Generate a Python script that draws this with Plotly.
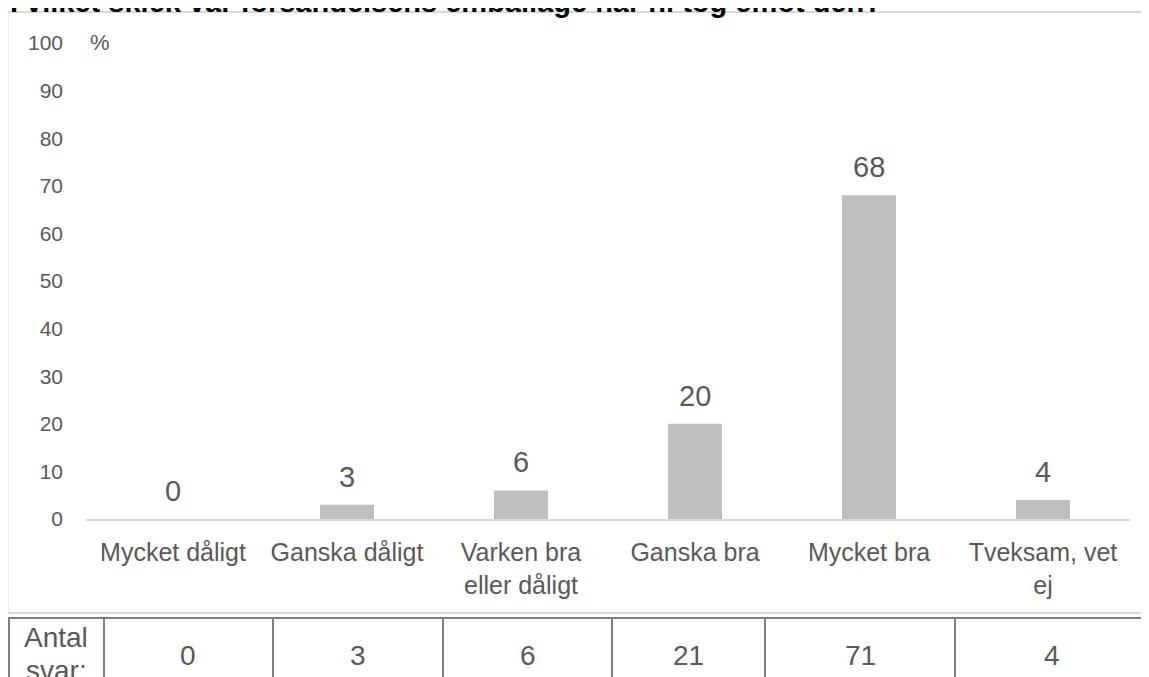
import plotly.graph_objects as go

# ---- data ----
categories = ["Mycket dåligt", "Ganska dåligt", "Varken bra<br>eller dåligt",
              "Ganska bra", "Mycket bra", "Tveksam, vet<br>ej"]
percent = [0, 3, 6, 20, 68, 4]
antal_svar = [0, 3, 6, 21, 71, 4]
y_ticks = [0, 10, 20, 30, 40, 50, 60, 70, 80, 90, 100]
title_text = "I vilket skick var försändelsens emballage när ni tog emot den?"
table_label = ["Antal", "svar:"]

# The page places the figure 8px from the top-left corner (default body margin),
# so the figure is sized to fill the rest of the 1149x677 window and layout
# positions below are given in window pixels and converted.
OFF = 8
W, H = 1149 - OFF, 677 - OFF
FONT = "Arial, Liberation Sans, sans-serif"
GRAY_TXT = "#595959"
BAR = "#bfbfbf"
LIGHT = "#d9d9d9"
TABLE_LINE = "#7f7f7f"


def px(x):
    return (x - OFF) / W


def py(y):
    return 1 - (y - OFF) / H


fig = go.Figure()
fig.add_trace(go.Bar(
    x=categories, y=percent, marker_color=BAR, marker_line_width=0,
    hoverinfo="skip", showlegend=False,
))

annotations = []
# data labels above bars
for c, v in zip(categories, percent):
    annotations.append(dict(
        x=c, y=v, xref="x", yref="y", text=str(v), showarrow=False,
        yanchor="bottom", yshift=10,
        font=dict(family=FONT, size=29, color=GRAY_TXT)))

# "%" unit label
annotations.append(dict(
    x=px(100), y=py(42), xref="paper", yref="paper", text="%",
    showarrow=False, xanchor="center", yanchor="middle",
    font=dict(family=FONT, size=22, color=GRAY_TXT)))

# title (partially cut off at the top, as in the reference)
annotations.append(dict(
    x=px(8), y=py(2), xref="paper", yref="paper", text="<b>" + title_text + "</b>",
    showarrow=False, xanchor="left", yanchor="middle",
    font=dict(family=FONT, size=29, color="#000000")))

# table
col_edges = [104, 273, 443, 612, 765, 955, 1149]
table_top, table_bottom, table_left = 618, 720, 8
shapes = []
# chart border box
shapes.append(dict(type="rect", xref="paper", yref="paper",
                   x0=px(7.5), x1=px(1165), y0=py(613), y1=py(12),
                   line=dict(color=LIGHT, width=2), fillcolor="rgba(0,0,0,0)",
                   layer="below"))
# table outer lines
shapes.append(dict(type="line", xref="paper", yref="paper",
                   x0=px(table_left), x1=px(1160), y0=py(table_top), y1=py(table_top),
                   line=dict(color=TABLE_LINE, width=2)))
shapes.append(dict(type="line", xref="paper", yref="paper",
                   x0=px(table_left + 1), x1=px(table_left + 1),
                   y0=py(table_top), y1=py(table_bottom),
                   line=dict(color=TABLE_LINE, width=2)))
for e in col_edges[:-1]:
    shapes.append(dict(type="line", xref="paper", yref="paper",
                       x0=px(e), x1=px(e), y0=py(table_top), y1=py(table_bottom),
                       line=dict(color=TABLE_LINE, width=2)))
for i, v in enumerate(antal_svar):
    cx = (col_edges[i] + col_edges[i + 1]) / 2
    annotations.append(dict(
        x=px(cx), y=py(655), xref="paper", yref="paper", text=str(v),
        showarrow=False, xanchor="center", yanchor="middle",
        font=dict(family=FONT, size=28, color=GRAY_TXT)))
for j, t in enumerate(table_label):
    annotations.append(dict(
        x=px((table_left + col_edges[0]) / 2), y=py(637 + 33 * j),
        xref="paper", yref="paper", text=t,
        showarrow=False, xanchor="center", yanchor="middle",
        font=dict(family=FONT, size=28, color=GRAY_TXT)))

fig.update_layout(
    width=W, height=H,
    margin=dict(l=0, r=0, t=0, b=0, pad=0, autoexpand=False),
    paper_bgcolor="white", plot_bgcolor="white",
    bargap=0.69,
    showlegend=False,
    xaxis=dict(
        domain=[px(86), px(1130)],
        automargin=False,
        showline=True, linecolor=LIGHT, linewidth=2,
        showgrid=False, zeroline=False, ticks="",
        tickfont=dict(family=FONT, size=25, color=GRAY_TXT),
        ticklabelstandoff=10,
        fixedrange=True,
    ),
    yaxis=dict(
        domain=[py(519), py(43)],
        range=[0, 100],
        automargin=False,
        tickvals=y_ticks,
        showgrid=False, zeroline=False, showline=False, ticks="",
        tickfont=dict(family=FONT, size=21, color=GRAY_TXT),
        ticklabelstandoff=22,
        fixedrange=True,
    ),
    annotations=annotations,
    shapes=shapes,
)

fig.write_html("out.html")
